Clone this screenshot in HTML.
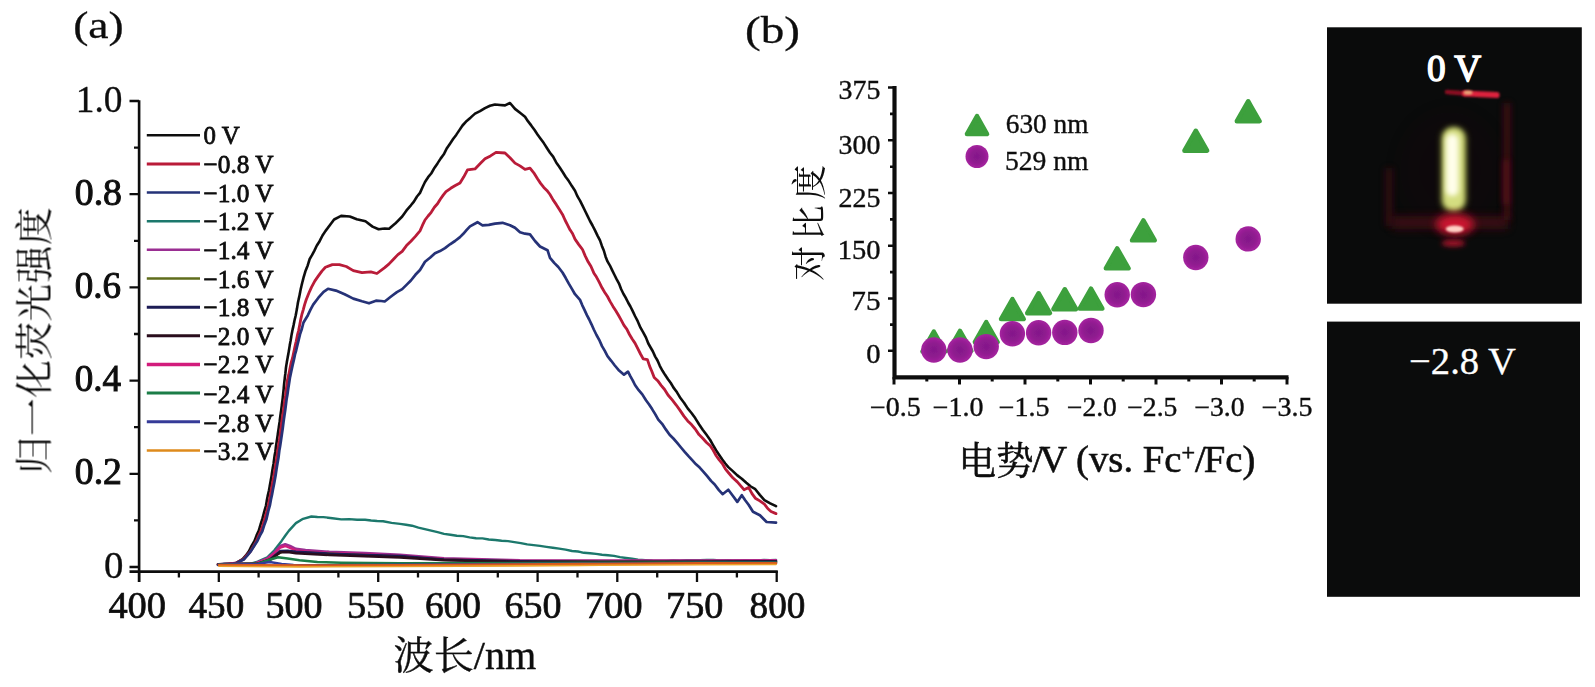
<!DOCTYPE html>
<html lang="zh"><head><meta charset="utf-8"><title>figure</title>
<style>
html,body{margin:0;padding:0;background:#fff;}
body{width:1595px;height:687px;overflow:hidden;}
svg{display:block;}
text{font-family:"Liberation Serif","Noto Serif CJK SC",serif;fill:#111;}
.cjk{font-family:"Noto Serif CJK SC","Liberation Serif",serif;}
.ax{stroke:#111;fill:none;}
.cv{fill:none;stroke-linejoin:round;stroke-linecap:round;}
</style></head><body>
<svg width="1595" height="687" viewBox="0 0 1595 687">
<defs>
<radialGradient id="pg"><stop offset="0" stop-color="#83188a"/><stop offset="0.55" stop-color="#8f1b8f"/><stop offset="1" stop-color="#a5239f"/></radialGradient>
<filter id="b1" filterUnits="userSpaceOnUse" x="1327" y="27" width="255" height="277"><feGaussianBlur stdDeviation="1.2"/></filter>
<filter id="b2" filterUnits="userSpaceOnUse" x="1327" y="27" width="255" height="277"><feGaussianBlur stdDeviation="2.5"/></filter>
<filter id="b3" filterUnits="userSpaceOnUse" x="1327" y="27" width="255" height="277"><feGaussianBlur stdDeviation="3.2"/></filter>
<filter id="b4" filterUnits="userSpaceOnUse" x="1327" y="27" width="255" height="277"><feGaussianBlur stdDeviation="4.5"/></filter>
<filter id="b8" filterUnits="userSpaceOnUse" x="1327" y="27" width="255" height="277"><feGaussianBlur stdDeviation="8"/></filter>
<filter id="soft" x="-5%" y="-5%" width="110%" height="110%"><feGaussianBlur stdDeviation="0.45"/></filter>
</defs>
<rect width="1595" height="687" fill="#fff"/>

<g id="panelA" filter="url(#soft)">
<path class="ax" stroke-width="2.6" d="M139.1,100.3 V582 M129.5,571.6 H777.8"/>
<path class="ax" stroke-width="2.3" d="M129.5,101.0 H139 M129.5,194.2 H139 M129.5,287.4 H139 M129.5,380.6 H139 M129.5,473.8 H139 M129.5,567.0 H139 M134,147.6 H139 M134,240.8 H139 M134,334.0 H139 M134,427.2 H139 M134,520.4 H139 "/>
<path class="ax" stroke-width="2.3" d="M139.1,571 V582 M218.8,571 V582 M298.5,571 V582 M378.2,571 V582 M457.9,571 V582 M537.6,571 V582 M617.3,571 V582 M697.0,571 V582 M776.7,571 V582 M178.9,571 V577.5 M258.6,571 V577.5 M338.4,571 V577.5 M418.0,571 V577.5 M497.8,571 V577.5 M577.5,571 V577.5 M657.2,571 V577.5 M736.9,571 V577.5 "/>
<text class="cjk" transform="translate(47.5,340.5) rotate(-90)" font-size="37.6" letter-spacing="0.6" text-anchor="middle">归一化荧光强度</text>
<path d="M146.8,135.2 H200" stroke="#111111" stroke-width="2.4" fill="none"/>
<path d="M146.8,163.9 H200" stroke="#b91a39" stroke-width="3.0" fill="none"/>
<path d="M146.8,192.5 H200" stroke="#253277" stroke-width="2.6" fill="none"/>
<path d="M146.8,221.2 H200" stroke="#1d786c" stroke-width="2.6" fill="none"/>
<path d="M146.8,249.8 H200" stroke="#9a2f92" stroke-width="2.6" fill="none"/>
<path d="M146.8,278.5 H200" stroke="#5f6d1a" stroke-width="2.4" fill="none"/>
<path d="M146.8,307.2 H200" stroke="#1d1c55" stroke-width="3.0" fill="none"/>
<path d="M146.8,335.8 H200" stroke="#2a0b1e" stroke-width="3.0" fill="none"/>
<path d="M146.8,364.5 H200" stroke="#d21f7c" stroke-width="3.6" fill="none"/>
<path d="M146.8,393.1 H200" stroke="#1c7d46" stroke-width="3.0" fill="none"/>
<path d="M146.8,421.8 H200" stroke="#343a98" stroke-width="3.0" fill="none"/>
<path d="M146.8,450.5 H200" stroke="#de8a1c" stroke-width="2.6" fill="none"/>
<text x="73.2" y="37.7" font-size="38.0" textLength="50.6" lengthAdjust="spacingAndGlyphs" stroke="#111" stroke-width="0.3">(a)</text>
<text x="75.8" y="112.1" font-size="38.0" textLength="46.7" lengthAdjust="spacingAndGlyphs" stroke="#111" stroke-width="0.35">1.0</text>
<text x="74.8" y="204.6" font-size="38.0" textLength="47.2" lengthAdjust="spacingAndGlyphs" stroke="#111" stroke-width="1.0">0.8</text>
<text x="74.8" y="298.0" font-size="38.0" textLength="46.3" lengthAdjust="spacingAndGlyphs" stroke="#111" stroke-width="1.0">0.6</text>
<text x="74.8" y="390.5" font-size="38.0" textLength="46.3" lengthAdjust="spacingAndGlyphs" stroke="#111" stroke-width="1.0">0.4</text>
<text x="74.8" y="483.8" font-size="38.0" textLength="47.2" lengthAdjust="spacingAndGlyphs" stroke="#111" stroke-width="1.0">0.2</text>
<text x="103.9" y="577.8" font-size="37.0" textLength="19.4" lengthAdjust="spacingAndGlyphs" stroke="#111" stroke-width="0.35">0</text>
<text x="108.4" y="618.3" font-size="38.0" textLength="57.7" lengthAdjust="spacingAndGlyphs" stroke="#111" stroke-width="0.7">400</text>
<text x="188.5" y="618.3" font-size="38.0" textLength="55.7" lengthAdjust="spacingAndGlyphs" stroke="#111" stroke-width="0.7">450</text>
<text x="265.4" y="618.3" font-size="38.0" textLength="57.1" lengthAdjust="spacingAndGlyphs" stroke="#111" stroke-width="0.7">500</text>
<text x="346.9" y="618.3" font-size="38.0" textLength="57.5" lengthAdjust="spacingAndGlyphs" stroke="#111" stroke-width="0.7">550</text>
<text x="424.9" y="618.3" font-size="38.0" textLength="56.1" lengthAdjust="spacingAndGlyphs" stroke="#111" stroke-width="0.7">600</text>
<text x="504.4" y="618.3" font-size="38.0" textLength="57.0" lengthAdjust="spacingAndGlyphs" stroke="#111" stroke-width="0.7">650</text>
<text x="584.7" y="618.3" font-size="38.0" textLength="58.0" lengthAdjust="spacingAndGlyphs" stroke="#111" stroke-width="0.7">700</text>
<text x="666.1" y="618.3" font-size="38.0" textLength="57.3" lengthAdjust="spacingAndGlyphs" stroke="#111" stroke-width="0.7">750</text>
<text x="749.6" y="618.3" font-size="38.0" textLength="55.8" lengthAdjust="spacingAndGlyphs" stroke="#111" stroke-width="0.7">800</text>
<text x="203.5" y="144.4" font-size="26.0" textLength="36.1" lengthAdjust="spacingAndGlyphs" stroke="#111" stroke-width="0.8">0 V</text>
<text x="203.5" y="173.1" font-size="26.0" textLength="70.0" lengthAdjust="spacingAndGlyphs" stroke="#111" stroke-width="0.8">−0.8 V</text>
<text x="203.5" y="201.7" font-size="26.0" textLength="70.0" lengthAdjust="spacingAndGlyphs" stroke="#111" stroke-width="0.8">−1.0 V</text>
<text x="203.5" y="230.3" font-size="26.0" textLength="70.0" lengthAdjust="spacingAndGlyphs" stroke="#111" stroke-width="0.8">−1.2 V</text>
<text x="203.5" y="258.9" font-size="26.0" textLength="70.0" lengthAdjust="spacingAndGlyphs" stroke="#111" stroke-width="0.8">−1.4 V</text>
<text x="203.5" y="287.6" font-size="26.0" textLength="70.0" lengthAdjust="spacingAndGlyphs" stroke="#111" stroke-width="0.8">−1.6 V</text>
<text x="203.5" y="316.2" font-size="26.0" textLength="70.0" lengthAdjust="spacingAndGlyphs" stroke="#111" stroke-width="0.8">−1.8 V</text>
<text x="203.5" y="344.8" font-size="26.0" textLength="70.0" lengthAdjust="spacingAndGlyphs" stroke="#111" stroke-width="0.8">−2.0 V</text>
<text x="203.5" y="373.4" font-size="26.0" textLength="70.0" lengthAdjust="spacingAndGlyphs" stroke="#111" stroke-width="0.8">−2.2 V</text>
<text x="203.5" y="403.0" font-size="26.0" textLength="70.0" lengthAdjust="spacingAndGlyphs" stroke="#111" stroke-width="0.8">−2.4 V</text>
<text x="203.5" y="431.6" font-size="26.0" textLength="70.0" lengthAdjust="spacingAndGlyphs" stroke="#111" stroke-width="0.8">−2.8 V</text>
<text x="203.5" y="460.2" font-size="26.0" textLength="70.0" lengthAdjust="spacingAndGlyphs" stroke="#111" stroke-width="0.8">−3.2 V</text>
<text x="393.5" y="669.0" font-size="39.0" textLength="142.8" lengthAdjust="spacingAndGlyphs" stroke="#111" stroke-width="0.4"><tspan class="cjk">波长</tspan>/nm</text>
<polyline class="cv" stroke="#0d0d0d" stroke-width="2.6" points="218.0,564.4 224.0,564.0 230.0,563.6 235.6,563.4 242.6,559.1 245.7,555.7 248.9,551.3 251.7,545.6 254.5,541.0 256.6,535.4 258.7,530.9 260.6,524.4 262.5,518.4 264.2,511.9 266.0,505.5 267.0,499.5 268.0,494.6 269.0,490.2 270.2,483.6 271.5,476.1 272.5,469.5 273.5,463.9 274.5,456.3 275.3,451.9 276.1,445.5 277.0,439.8 277.8,434.2 278.7,427.9 279.6,422.0 280.5,414.6 281.2,410.1 281.8,405.2 282.5,399.8 283.1,394.7 283.7,388.6 284.2,383.1 284.8,377.9 285.4,373.2 286.0,367.4 286.9,361.8 287.8,356.8 288.8,351.2 289.7,345.6 290.6,340.8 291.5,335.3 292.6,329.6 293.6,325.1 294.6,320.0 295.7,315.5 296.9,309.1 298.0,302.2 299.2,296.9 300.7,289.3 302.1,283.3 303.6,277.4 305.6,270.7 307.7,265.4 309.7,259.0 312.0,255.2 314.4,250.6 316.7,245.7 319.6,241.2 322.5,235.5 325.4,231.1 329.8,225.2 334.1,219.5 341.1,215.9 349.8,216.5 356.8,219.2 365.5,221.2 372.5,226.6 378.6,229.3 384.7,228.5 389.1,228.7 395.2,223.6 402.2,216.5 406.5,210.4 410.9,205.3 413.9,201.6 417.0,196.5 420.0,192.9 422.5,187.3 425.0,182.0 428.1,177.2 431.2,173.5 434.4,167.9 437.5,163.4 440.6,158.6 443.8,154.3 446.9,148.2 450.0,143.7 453.1,139.1 456.2,134.9 459.4,130.1 462.5,125.5 466.7,120.9 470.8,117.4 475.0,113.6 480.0,111.2 485.0,108.1 490.0,105.8 495.0,104.5 500.0,105.0 505.0,105.4 510.0,103.0 515.0,108.9 520.0,112.8 525.0,116.8 528.1,121.4 531.2,125.4 534.4,129.8 537.5,134.4 540.6,138.7 543.8,143.1 546.9,148.0 550.0,152.7 553.1,156.6 556.2,162.4 559.4,167.0 562.5,171.8 565.6,176.7 568.8,181.1 571.9,186.1 575.0,190.7 577.5,196.4 580.0,200.6 582.5,205.6 585.0,210.8 587.5,215.8 590.0,221.0 592.5,225.5 595.0,230.4 597.5,235.6 600.0,240.4 601.9,245.9 603.8,250.5 605.6,256.7 607.5,261.4 609.8,265.3 612.1,270.1 614.4,274.8 616.7,279.4 619.0,283.6 621.2,289.2 623.5,294.0 625.8,297.9 628.1,302.5 630.4,306.5 632.7,311.1 635.0,316.0 637.8,321.4 640.5,327.7 643.2,332.3 646.0,337.6 648.3,343.5 650.6,347.5 652.9,351.5 655.2,356.6 657.5,360.5 659.8,365.8 662.5,370.8 665.2,375.1 668.0,379.2 670.8,383.0 673.5,387.6 677.0,392.3 680.6,398.3 684.2,403.0 687.7,408.4 691.5,413.0 695.2,418.1 699.0,424.2 702.7,429.7 706.5,434.8 710.2,440.0 713.2,445.3 716.2,450.5 719.2,455.0 722.3,459.6 725.3,463.5 728.3,467.1 732.8,471.1 737.3,475.4 741.8,478.8 746.3,482.8 750.8,486.5 755.3,489.2 759.8,494.9 764.4,500.1 770.2,503.4 776.0,506.2"/>
<polyline class="cv" stroke="#b91a39" stroke-width="2.8" points="218.0,564.6 224.0,564.3 230.0,563.9 236.4,562.8 243.5,559.3 246.8,555.2 250.2,551.7 253.2,546.8 256.2,541.5 258.5,536.0 260.8,531.2 262.8,525.4 264.8,518.4 266.6,512.2 268.3,505.6 269.3,500.4 270.3,495.4 271.3,490.0 272.6,482.5 273.8,476.4 274.8,469.4 275.8,463.7 276.8,457.6 277.6,451.2 278.5,445.7 279.3,440.9 280.1,435.0 281.0,427.7 281.9,421.0 282.8,414.5 283.5,410.6 284.1,405.4 284.8,399.5 285.5,395.5 286.1,390.7 286.8,385.2 287.5,379.8 288.8,374.4 290.0,368.2 291.2,362.4 292.5,358.2 293.8,352.1 295.0,346.3 296.2,341.2 297.5,334.9 298.6,330.5 299.6,325.5 300.7,319.6 301.8,314.7 303.3,309.6 304.7,304.4 306.2,299.8 308.8,293.3 311.4,287.4 314.9,280.9 318.4,275.9 321.9,271.1 325.4,267.3 332.4,264.6 339.4,264.6 346.3,266.5 353.3,270.6 362.0,272.7 370.8,271.8 376.9,273.5 384.7,267.6 389.1,263.9 393.5,259.2 397.9,254.6 402.2,251.3 406.5,245.6 410.9,241.3 415.4,236.4 420.0,230.9 422.5,225.2 425.0,220.0 428.1,216.0 431.2,212.3 434.4,207.3 437.5,203.8 440.3,199.2 443.2,195.1 446.0,191.6 450.7,188.3 455.3,185.5 460.0,182.9 463.8,176.8 467.5,169.9 475.0,168.9 480.0,163.8 485.0,158.8 490.5,155.9 496.0,152.4 505.0,153.0 510.0,157.7 515.0,163.1 520.0,165.9 525.0,169.3 530.0,168.1 533.8,172.8 537.5,178.8 540.6,183.4 543.8,187.4 546.9,190.4 550.0,194.5 553.1,199.9 556.2,204.4 559.4,209.6 562.5,214.4 565.0,220.0 567.5,224.9 570.0,229.8 572.5,233.5 575.0,239.1 578.8,244.6 582.5,249.5 585.3,256.1 588.1,261.8 590.9,266.3 593.8,272.9 596.5,277.1 599.2,282.1 602.0,287.8 604.8,292.5 607.5,296.5 610.2,301.6 613.0,306.4 615.8,310.8 618.5,315.3 621.2,320.1 624.0,325.4 626.8,329.1 629.5,334.5 632.2,339.0 635.0,343.1 637.8,348.6 640.5,354.0 643.2,358.9 647.4,359.6 649.7,366.4 652.0,371.7 654.2,377.4 657.7,380.7 661.1,385.3 664.6,389.5 668.0,395.0 672.2,399.9 676.4,405.3 680.2,410.6 683.9,416.1 687.7,420.9 691.5,424.6 695.2,429.0 699.0,434.6 702.7,438.2 706.5,442.5 710.2,445.8 713.2,450.3 716.2,455.7 719.2,459.9 722.3,463.5 725.3,468.8 728.3,472.5 732.8,477.8 737.3,481.9 744.0,489.7 748.6,487.4 752.0,493.7 755.3,498.2 759.8,500.9 764.4,504.1 767.7,508.5 771.0,511.5 776.0,513.6"/>
<polyline class="cv" stroke="#253277" stroke-width="2.7" points="218.0,564.8 224.0,564.1 230.0,564.5 237.0,562.8 244.2,559.2 247.7,555.1 251.1,550.9 254.3,545.8 257.5,540.7 259.9,535.7 262.3,531.4 264.4,524.7 266.5,519.0 268.2,511.5 270.0,504.8 271.0,499.3 272.0,494.7 273.0,489.3 274.2,483.3 275.5,476.1 276.5,469.2 277.5,463.2 278.5,457.5 279.3,450.8 280.1,446.2 281.0,440.2 281.8,434.7 282.7,428.6 283.6,421.4 284.5,415.0 285.2,410.3 285.8,405.7 286.5,399.8 287.4,394.8 288.2,389.0 289.1,383.3 290.0,377.4 291.2,371.7 292.5,365.6 293.8,360.1 295.0,354.4 296.2,350.3 297.5,344.7 298.8,339.5 300.0,334.4 301.8,329.0 303.5,322.5 307.9,315.2 310.5,309.7 313.2,304.6 318.4,297.7 323.6,291.8 328.0,288.8 335.9,290.6 344.6,294.2 353.3,298.6 362.0,301.3 369.0,303.3 376.0,300.7 381.2,301.0 384.7,301.5 391.7,296.0 396.9,292.1 402.2,289.1 406.5,284.9 410.9,280.5 415.4,274.8 420.0,270.0 425.0,261.8 430.0,257.8 435.0,253.2 440.0,251.1 445.0,248.1 450.0,244.3 455.0,241.0 460.0,237.1 463.3,233.8 466.7,229.9 470.0,226.4 477.5,222.2 482.5,225.3 488.8,224.9 495.0,223.6 502.5,222.8 510.0,225.2 515.0,227.8 520.0,232.3 525.0,233.7 530.0,234.4 535.0,241.0 540.0,246.5 547.5,250.2 550.0,257.8 554.2,262.9 558.3,267.0 562.5,272.5 565.6,277.8 568.8,283.6 571.9,288.9 575.0,294.2 580.0,299.9 582.3,305.3 584.6,310.1 586.9,315.1 589.2,319.5 591.5,324.3 593.8,329.5 596.5,335.0 599.2,339.8 602.0,346.1 604.8,350.9 607.5,356.2 611.2,360.8 614.8,365.5 618.5,369.9 624.0,374.7 628.0,371.7 630.3,376.2 632.7,380.4 635.0,385.0 638.7,390.2 642.3,394.4 646.0,400.3 649.1,404.5 652.1,409.1 655.2,414.1 658.3,419.6 662.1,423.8 665.8,429.4 669.6,434.7 673.4,438.5 677.2,442.8 681.0,447.5 684.7,451.9 688.5,456.2 692.2,460.2 696.0,464.3 699.7,467.6 703.5,471.8 707.2,476.1 711.0,480.9 714.7,484.5 718.7,489.9 722.6,494.2 728.3,489.8 732.8,495.7 737.3,501.9 741.8,495.2 745.2,500.2 748.6,504.7 753.0,511.8 759.9,515.2 766.6,522.0 776.0,522.6"/>
<polyline class="cv" stroke="#1d786c" stroke-width="2.4" points="219.0,564.4 225.2,564.0 231.4,564.3 237.6,563.7 243.8,564.0 250.0,563.9 257.7,561.7 267.3,557.3 274.4,550.3 281.6,540.9 285.2,535.8 288.8,530.9 295.9,523.1 303.1,518.8 311.4,516.5 317.4,517.0 323.4,517.1 332.4,518.2 341.3,519.4 349.2,519.1 357.2,519.7 365.1,519.7 371.1,520.5 377.1,521.0 383.1,521.3 391.6,522.9 400.0,523.9 406.0,524.7 412.0,525.7 418.4,527.6 424.8,529.2 431.2,530.7 437.6,532.2 444.0,533.9 450.4,534.7 456.8,535.8 463.2,536.1 469.6,537.4 476.0,538.2 482.4,538.4 488.8,539.5 495.2,540.0 501.6,540.8 508.0,541.1 514.4,542.1 520.8,543.1 527.2,544.4 533.6,545.1 540.0,545.9 546.4,546.9 552.8,547.8 559.2,548.6 565.6,549.6 572.0,551.0 578.0,551.5 584.0,552.8 590.0,553.2 596.0,553.9 602.0,554.7 608.0,555.2 614.0,555.9 620.0,557.1 626.0,558.0 632.0,558.8 638.0,559.6 645.3,560.2 652.7,560.8 660.0,561.0 666.7,561.0 673.3,560.4 680.0,560.6 686.7,560.3 693.3,560.3 700.0,560.1 706.7,560.0 713.3,559.9 720.0,560.5 726.7,560.1 733.3,560.4 740.0,560.4 746.0,560.3 752.0,560.5 758.0,560.5 764.0,560.0 770.0,560.2 776.0,560.0"/>
<polyline class="cv" stroke="#9a2f92" stroke-width="2.6" points="219.0,564.2 255.0,563.5 267.3,558.5 274.4,552.5 280.4,546.0 285.2,544.2 290.0,546.0 295.9,548.9 305.5,550.1 329.3,551.9 365.1,553.1 400.0,554.9 444.0,558.2 520.0,560.3 600.0,560.5 700.0,560.5 776.0,560.2"/>
<polyline class="cv" stroke="#d21f7c" stroke-width="2.4" points="219.0,564.3 255.0,563.6 267.3,559.0 274.4,553.5 280.4,547.5 285.2,546.0 290.0,548.0 295.9,550.4 305.5,551.5 329.3,553.0 365.1,554.2 400.0,556.0 444.0,559.0 520.0,561.0 600.0,561.0 700.0,561.0 776.0,560.6"/>
<polyline class="cv" stroke="#5f6d1a" stroke-width="2.0" points="219.0,564.4 258.0,563.6 270.0,559.0 278.0,554.0 283.0,551.5 290.0,551.8 330.0,553.5 400.0,556.4 444.0,559.4 520.0,561.2 600.0,561.5 700.0,561.5 776.0,561.0"/>
<polyline class="cv" stroke="#1d1c55" stroke-width="2.6" points="219.0,564.4 258.0,563.7 270.0,559.5 280.4,551.0 287.6,550.7 295.9,551.9 329.3,553.7 400.0,556.1 444.0,559.6 520.0,561.4 600.0,561.8 700.0,561.8 776.0,561.4"/>
<polyline class="cv" stroke="#2a0b1e" stroke-width="2.6" points="219.0,564.5 258.0,563.8 270.0,560.0 280.4,552.2 287.6,552.0 295.9,553.2 329.3,555.0 400.0,557.4 444.0,560.2 520.0,562.0 600.0,562.2 700.0,562.0 776.0,561.8"/>
<polyline class="cv" stroke="#1c7d46" stroke-width="2.6" points="219.0,564.5 258.0,563.8 269.7,559.7 278.0,557.3 287.6,558.5 299.5,560.3 317.4,562.0 341.3,562.7 400.0,563.2 520.0,563.0 600.0,562.8 700.0,562.5 776.0,562.5"/>
<polyline class="cv" stroke="#343a98" stroke-width="2.4" points="219.0,564.6 258.0,563.9 269.7,562.0 281.6,563.9 293.5,565.0 330.0,565.2 400.0,564.6 520.0,564.0 600.0,563.6 700.0,563.0 776.0,563.0"/>
<polyline class="cv" stroke="#d8581c" stroke-width="2.6" points="219.0,565.0 300.0,565.6 400.0,565.2 520.0,564.6 600.0,564.0 700.0,563.4 776.0,563.2"/>
<polyline class="cv" stroke="#eba22a" stroke-width="1.6" points="219.0,566.3 300.0,566.9 400.0,566.5 520.0,565.9 600.0,565.3 700.0,564.7 776.0,564.5"/>
</g>
<g id="panelB" filter="url(#soft)">
<path class="ax" stroke-width="4.2" d="M894.5,86 V377.3 H1288.5" stroke-linejoin="miter"/>
<path class="ax" stroke-width="2.6" d="M888,87.5 H894 M888,140.3 H894 M888,193.0 H894 M888,245.8 H894 M888,298.5 H894 M888,350.8 H894 M890,113.9 H894 M890,166.7 H894 M890,219.4 H894 M890,272.1 H894 M890,324.6 H894 "/>
<path class="ax" stroke-width="3" d="M894.0,377 V384.5 M959.5,377 V384.5 M1025.0,377 V384.5 M1090.5,377 V384.5 M1156.0,377 V384.5 M1221.5,377 V384.5 M1287.0,377 V384.5 M926.8,377 V381.6 M992.2,377 V381.6 M1057.8,377 V381.6 M1123.2,377 V381.6 M1188.8,377 V381.6 M1254.2,377 V381.6 "/>
<text class="cjk" transform="translate(821.5,220) rotate(-90)" font-size="35" letter-spacing="5.5" text-anchor="middle">对比度</text>
<text x="745.0" y="43.1" font-size="38.0" textLength="55.0" lengthAdjust="spacingAndGlyphs" stroke="#111" stroke-width="0.3">(b)</text>
<text x="838.6" y="99.3" font-size="27.5" textLength="41.9" lengthAdjust="spacingAndGlyphs" stroke="#111" stroke-width="0.4">375</text>
<text x="838.6" y="153.9" font-size="27.5" textLength="41.9" lengthAdjust="spacingAndGlyphs" stroke="#111" stroke-width="0.4">300</text>
<text x="838.6" y="206.5" font-size="27.5" textLength="41.9" lengthAdjust="spacingAndGlyphs" stroke="#111" stroke-width="0.4">225</text>
<text x="837.7" y="259.1" font-size="27.5" textLength="42.8" lengthAdjust="spacingAndGlyphs" stroke="#111" stroke-width="0.4">150</text>
<text x="851.3" y="310.1" font-size="27.5" textLength="29.2" lengthAdjust="spacingAndGlyphs" stroke="#111" stroke-width="0.4">75</text>
<text x="866.2" y="362.7" font-size="27.5" textLength="14.3" lengthAdjust="spacingAndGlyphs" stroke="#111" stroke-width="0.4">0</text>
<text x="869.9" y="415.7" font-size="26.5" textLength="50.8" lengthAdjust="spacingAndGlyphs" stroke="#111" stroke-width="0.4">−0.5</text>
<text x="932.7" y="415.7" font-size="26.5" textLength="50.8" lengthAdjust="spacingAndGlyphs" stroke="#111" stroke-width="0.4">−1.0</text>
<text x="998.8" y="415.7" font-size="26.5" textLength="50.8" lengthAdjust="spacingAndGlyphs" stroke="#111" stroke-width="0.4">−1.5</text>
<text x="1066.9" y="415.7" font-size="26.5" textLength="50.0" lengthAdjust="spacingAndGlyphs" stroke="#111" stroke-width="0.4">−2.0</text>
<text x="1127.3" y="415.7" font-size="26.5" textLength="50.1" lengthAdjust="spacingAndGlyphs" stroke="#111" stroke-width="0.4">−2.5</text>
<text x="1194.4" y="415.7" font-size="26.5" textLength="50.2" lengthAdjust="spacingAndGlyphs" stroke="#111" stroke-width="0.4">−3.0</text>
<text x="1261.8" y="415.7" font-size="26.5" textLength="50.8" lengthAdjust="spacingAndGlyphs" stroke="#111" stroke-width="0.4">−3.5</text>
<text x="1005.8" y="133.3" font-size="27.5" textLength="82.7" lengthAdjust="spacingAndGlyphs" stroke="#111" stroke-width="0.4">630 nm</text>
<text x="1004.9" y="169.6" font-size="27.5" textLength="83.6" lengthAdjust="spacingAndGlyphs" stroke="#111" stroke-width="0.4">529 nm</text>
<text x="958.4" y="472.2" font-size="38.7" textLength="297.0" lengthAdjust="spacingAndGlyphs" stroke="#111" stroke-width="0.6"><tspan class="cjk" font-size="37.5" dy="1.6">电势</tspan><tspan dx="-1" dy="-1.6">/</tspan><tspan dx="-4">V</tspan> (vs. Fc<tspan font-size="24" dy="-12">+</tspan><tspan dy="12">/</tspan><tspan dx="-2">Fc)</tspan></text>
<path d="M977.0,116.0 L987.1,134.0 L966.9,134.0 Z" fill="#3ca03c" stroke="#3ca03c" stroke-width="4.4" stroke-linejoin="round"/>
<circle cx="977.0" cy="156.5" r="11.5" fill="url(#pg)"/>
<path d="M933.8,331.5 L945.2,351.5 L922.4,351.5 Z" fill="#3ca03c" stroke="#3ca03c" stroke-width="4.4" stroke-linejoin="round"/>
<path d="M960.0,330.8 L971.4,350.8 L948.6,350.8 Z" fill="#3ca03c" stroke="#3ca03c" stroke-width="4.4" stroke-linejoin="round"/>
<path d="M986.2,322.0 L997.6,342.0 L974.8,342.0 Z" fill="#3ca03c" stroke="#3ca03c" stroke-width="4.4" stroke-linejoin="round"/>
<path d="M1012.4,299.0 L1023.8,319.0 L1001.0,319.0 Z" fill="#3ca03c" stroke="#3ca03c" stroke-width="4.4" stroke-linejoin="round"/>
<path d="M1038.6,293.2 L1050.0,313.2 L1027.2,313.2 Z" fill="#3ca03c" stroke="#3ca03c" stroke-width="4.4" stroke-linejoin="round"/>
<path d="M1064.8,289.2 L1076.2,309.2 L1053.4,309.2 Z" fill="#3ca03c" stroke="#3ca03c" stroke-width="4.4" stroke-linejoin="round"/>
<path d="M1091.0,288.6 L1102.4,308.6 L1079.6,308.6 Z" fill="#3ca03c" stroke="#3ca03c" stroke-width="4.4" stroke-linejoin="round"/>
<path d="M1117.2,248.3 L1128.6,268.3 L1105.8,268.3 Z" fill="#3ca03c" stroke="#3ca03c" stroke-width="4.4" stroke-linejoin="round"/>
<path d="M1143.4,220.4 L1154.8,240.4 L1132.0,240.4 Z" fill="#3ca03c" stroke="#3ca03c" stroke-width="4.4" stroke-linejoin="round"/>
<path d="M1195.8,130.7 L1207.2,150.7 L1184.4,150.7 Z" fill="#3ca03c" stroke="#3ca03c" stroke-width="4.4" stroke-linejoin="round"/>
<path d="M1248.2,101.2 L1259.6,121.2 L1236.8,121.2 Z" fill="#3ca03c" stroke="#3ca03c" stroke-width="4.4" stroke-linejoin="round"/>
<circle cx="933.8" cy="350.0" r="12.7" fill="url(#pg)"/>
<circle cx="960.0" cy="350.0" r="12.7" fill="url(#pg)"/>
<circle cx="986.2" cy="346.6" r="12.7" fill="url(#pg)"/>
<circle cx="1012.4" cy="333.7" r="12.7" fill="url(#pg)"/>
<circle cx="1038.6" cy="332.8" r="12.7" fill="url(#pg)"/>
<circle cx="1064.8" cy="332.4" r="12.7" fill="url(#pg)"/>
<circle cx="1091.0" cy="330.5" r="12.7" fill="url(#pg)"/>
<circle cx="1117.2" cy="294.7" r="12.7" fill="url(#pg)"/>
<circle cx="1143.4" cy="294.6" r="12.7" fill="url(#pg)"/>
<circle cx="1195.8" cy="257.5" r="12.7" fill="url(#pg)"/>
<circle cx="1248.2" cy="238.9" r="12.7" fill="url(#pg)"/>
</g>
<g id="photos">
<rect x="1327" y="27.3" width="254.8" height="276.4" fill="#0a0b0b"/>
<rect x="1327" y="321.6" width="253" height="275.2" fill="#0b0c0c"/>
<g>
<ellipse cx="1450" cy="170" rx="50" ry="58" fill="#1a0507" opacity="0.18" filter="url(#b8)"/>
<rect x="1392" y="216" width="116" height="13" fill="#4a0912" opacity="0.75" filter="url(#b4)"/>
<rect x="1385.5" y="168" width="7" height="58" fill="#450912" opacity="0.65" filter="url(#b3)"/>
<rect x="1503.5" y="103" width="7" height="117" fill="#4c0a16" opacity="0.8" filter="url(#b3)"/>
<rect x="1503.5" y="160" width="5.5" height="44" fill="#6a0e20" opacity="0.7" filter="url(#b3)"/>
<path d="M1447,92 L1465,93.4" stroke="#8a1020" stroke-width="4.6" fill="none" stroke-linecap="round" filter="url(#b1)"/>
<path d="M1465,93.4 L1496.6,95.1" stroke="#dc203e" stroke-width="6" fill="none" stroke-linecap="round" filter="url(#b1)"/>
<ellipse cx="1468" cy="92.6" rx="4.5" ry="2.2" fill="#e8a878" filter="url(#b1)"/>
<rect x="1441" y="127" width="25.5" height="85" rx="12" fill="#8c9834" opacity="0.7" filter="url(#b3)"/>
<rect x="1443" y="128" width="21.5" height="82" rx="10" fill="#d4dd80" filter="url(#b2)"/>
<rect x="1446" y="134" width="12.5" height="62" rx="6" fill="#fffeea" filter="url(#b2)"/>
<ellipse cx="1455" cy="224.5" rx="19" ry="10.5" fill="#d41332" opacity="0.95" filter="url(#b4)"/>
<ellipse cx="1454.7" cy="229" rx="9" ry="3.4" fill="#ffd0c4" filter="url(#b1)"/>
<ellipse cx="1453.4" cy="243.2" rx="12" ry="3.2" fill="#a8122c" filter="url(#b2)"/>
</g>
<text x="1427.0" y="81.1" font-size="37.3" textLength="54.2" lengthAdjust="spacingAndGlyphs" style="fill:#fff" stroke="#fff" stroke-width="1.4">0 V</text>
<text x="1409.1" y="374.3" font-size="38.5" textLength="106.9" lengthAdjust="spacingAndGlyphs" style="fill:#fff" stroke="#fff" stroke-width="0.3">−2.8 V</text>
</g>
</svg></body></html>
